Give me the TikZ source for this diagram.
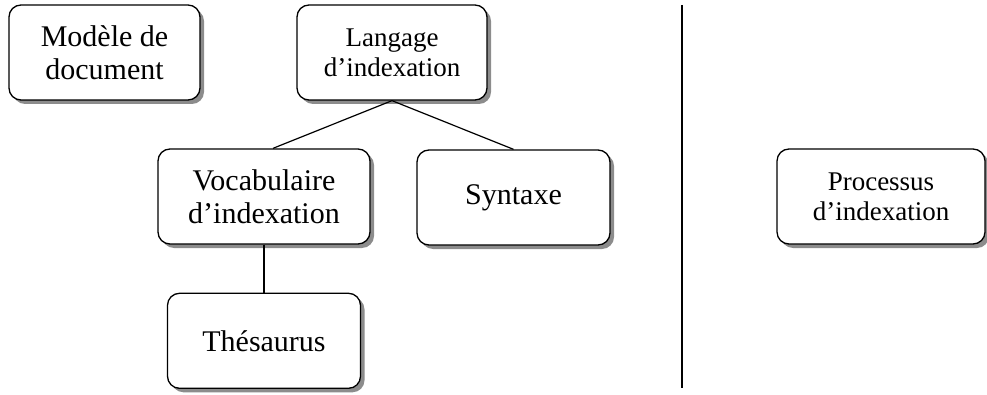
\documentclass[tikz,border=0pt]{standalone}
\usepackage{fontspec}
\setmainfont{Liberation Serif}
\usepackage{xcolor}
\usepackage{tikz}
\usetikzlibrary{positioning,shadows}
\definecolor{IdxShadow}{HTML}{8C8C8C}

\begin{document}
\begin{tikzpicture}[
  x=1pt, y=1pt,
  box/.style={draw=black, line width=1.3pt, rounded corners=12pt, fill=white, align=center,
    minimum height=95pt, font=\fontsize{30}{33}\selectfont,
    drop shadow={shadow xshift=4pt, shadow yshift=-4pt, fill=IdxShadow, opacity=1}},
  smallbox/.style={box, font=\fontsize{27}{30}\selectfont},
  link/.style={line width=1.2pt, draw=black}
]
  \useasboundingbox (0,0) rectangle (987,394);
  \node[box, minimum width=191pt] (modele) at (104.5,341.5) {Mod\`ele de\\document};
  \node[smallbox, minimum width=190pt] (langage) at (392,341.5) {Langage\\d’indexation};
  \node[box, minimum width=212pt] (vocab) at (264,197.5) {Vocabulaire\\d’indexation};
  \node[box, minimum width=193pt] (syntaxe) at (513.5,196.5) {Syntaxe};
  \node[box, minimum width=193pt, below=48pt of vocab.south, anchor=north] (thes) {Th\'esaurus};
  \node[smallbox, minimum width=208pt] (processus) at (881,197.5) {Processus\\d’indexation};
  \coordinate (septop) at (682,389);
  \coordinate (sepbot) at (682,6);
  \draw[link] (langage.south) -- ([xshift=9pt]vocab.north);
  \draw[link] (langage.south) -- (syntaxe.north);
  \draw[link] (vocab.south) -- (thes.north);
  \draw[link] (septop) -- (sepbot);
\end{tikzpicture}
\end{document}
